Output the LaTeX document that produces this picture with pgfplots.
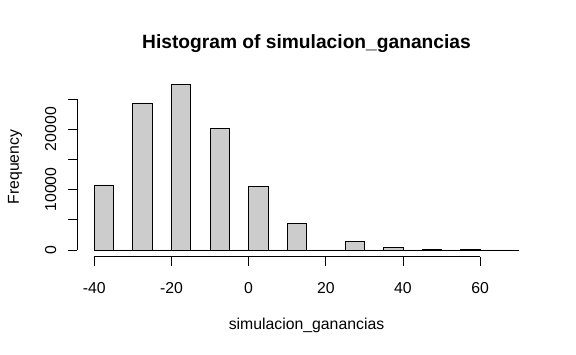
\documentclass[border=0pt]{standalone}
\usepackage{pgfplots}
\pgfplotsset{compat=1.18}
\usepackage{fontspec}
\setmainfont{Liberation Sans}
\definecolor{barfill}{RGB}{204,204,204}
\begin{document}
\fontsize{15.8}{19}\selectfont
\begin{tikzpicture}
\path[use as bounding box] (0pt,0pt) rectangle (576pt,355pt);
\begin{axis}[
  at={(77.3pt,98.4pt)}, anchor=south west,
  scale only axis, width=458.4pt, height=178.9pt,
  xmin=-44.4, xmax=74.4, ymin=-1097, ymax=28522,
  hide axis, clip=false,
]
\addplot[ybar interval, fill=barfill, draw=black, line width=0.8pt] coordinates {
(-40,10760) (-35,0) (-30,24340) (-25,0) (-20,27425) (-15,0) (-10,20150) (-5,0)
(0,10480) (5,0) (10,4420) (15,0) (20,0) (25,1440) (30,0) (35,450) (40,0)
(45,160) (50,0) (55,50) (60,0) (65,8) (70,8)};
\draw[line width=0.8pt] (axis cs:-40,-1097) -- (axis cs:60,-1097);
\pgfplotsinvokeforeach{-40,-20,0,20,40,60}{
  \draw[line width=0.8pt] (axis cs:#1,-1097) -- ++(0pt,-9.6pt);
  \node at ([yshift=-31.4pt]axis cs:#1,-1097) {#1};
}
\draw[line width=0.8pt] (axis cs:-44.4,0) -- (axis cs:-44.4,25000);
\pgfplotsinvokeforeach{0,5000,10000,15000,20000,25000}{
  \draw[line width=0.8pt] (axis cs:-44.4,#1) -- ++(-9.6pt,0pt);
}
\node[rotate=90] at ([xshift=-26.5pt]axis cs:-44.4,0) {0};
\node[rotate=90] at ([xshift=-26.5pt]axis cs:-44.4,10000) {10000};
\node[rotate=90] at ([xshift=-26.5pt]axis cs:-44.4,20000) {20000};
\end{axis}
\node[font=\fontsize{19.2}{23}\selectfont\bfseries] at (306.5pt,311.7pt) {Histogram of simulacion\_ganancias};
\node at (306.5pt,29.2pt) {simulacion\_ganancias};
\node[rotate=90] at (15pt,188pt) {Frequency};
\end{tikzpicture}
\end{document}
